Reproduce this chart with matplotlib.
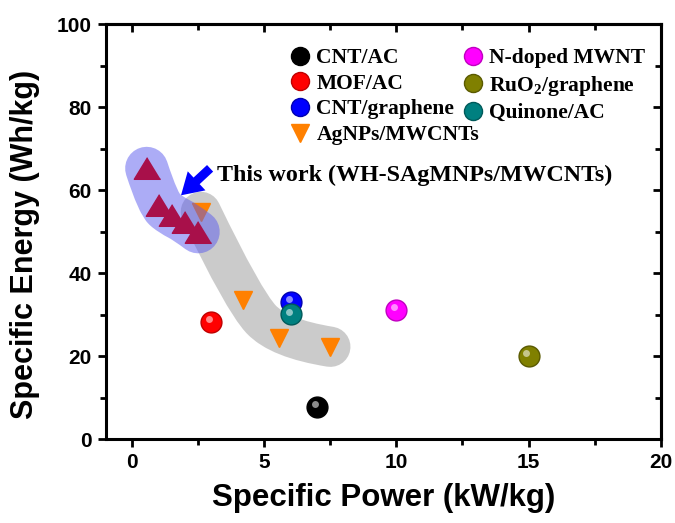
import matplotlib
matplotlib.use("Agg")
import matplotlib.pyplot as plt
import matplotlib.transforms as mtransforms
from matplotlib.path import Path
from matplotlib.patches import PathPatch

# ---------------- data ----------------
sphere_labels = ["CNT/AC", "MOF/AC", "CNT/graphene", "N-doped MWNT",
                 r"RuO$_\mathregular{2}$/graphene", "Quinone/AC"]
sphere_power = [7.0, 3.0, 6.0, 10.0, 15.0, 6.0]
sphere_energy = [7.8, 28.3, 33.2, 31.2, 20.1, 30.1]
sphere_colors = ["#000000", "#FF0000", "#0000FF", "#FF00FF", "#808000", "#008080"]
sphere_edges = ["#000000", "#C00000", "#0000B0", "#C000C0", "#5A5A00", "#005A5A"]

agnp_power = [2.6, 4.2, 5.55, 7.5]
agnp_energy = [54.8, 33.6, 24.3, 22.3]

work_power = [0.55, 1.0, 1.5, 2.0, 2.5]
work_energy = [65.3, 56.5, 54.0, 52.4, 50.0]


def smooth_band(xs, ys):
    # quadratic b-spline through the points, used for the shaded bands
    pts = list(zip(xs, ys))
    verts = [pts[0]]
    codes = [Path.MOVETO]
    for i in range(1, len(pts) - 1):
        verts.append(pts[i])
        if i < len(pts) - 2:
            verts.append(((pts[i][0] + pts[i + 1][0]) / 2, (pts[i][1] + pts[i + 1][1]) / 2))
        else:
            verts.append(pts[-1])
        codes += [Path.CURVE3, Path.CURVE3]
    return Path(verts, codes)


plt.rcParams["font.family"] = ["Liberation Sans", "DejaVu Sans"]
plt.rcParams["font.weight"] = "bold"

fig = plt.figure(figsize=(6.75, 5.23), dpi=100)
ax = fig.add_axes([0.1566, 0.1600, 0.8222, 0.7935])

# shaded bands behind the groups
ax.add_patch(PathPatch(smooth_band(agnp_power, agnp_energy), fill=False,
                       edgecolor="#999999", alpha=0.5, lw=29,
                       capstyle="round", joinstyle="round", zorder=1))
ax.plot(agnp_power, agnp_energy, "v", color="#FF8000", ms=13, mec="#FF8000",
        label="AgNPs/MWCNTs", zorder=2)
ax.add_patch(PathPatch(smooth_band(work_power, work_energy), fill=False,
                       edgecolor="#5A5AEE", alpha=0.5, lw=31,
                       capstyle="round", joinstyle="round", zorder=3))
tri = [(0, 0.82), (-1, -0.82), (1, -0.82)]
ax.plot(work_power, work_energy, ls="none", marker=tri, color="#A8104A",
        ms=19, zorder=4)

# spheres with a small highlight
hl = mtransforms.offset_copy(ax.transData, fig=fig, x=-1.5, y=1.8, units="points")
handles = {}
for lab, p, e, c, ec in zip(sphere_labels, sphere_power, sphere_energy,
                            sphere_colors, sphere_edges):
    h, = ax.plot([p], [e], "o", color=c, mec=ec, ms=15, label=lab, zorder=5)
    ax.plot([p], [e], "o", color="white", mec="none", ms=5, alpha=0.55,
            transform=hl, zorder=6)
    handles[lab] = h

ax.set_xlim(-1, 20)
ax.set_ylim(0, 100)
ax.set_xticks([0, 5, 10, 15, 20])
ax.set_xticks([2.5, 7.5, 12.5, 17.5], minor=True)
ax.set_yticks([0, 20, 40, 60, 80, 100])
ax.set_yticks([10, 30, 50, 70, 90], minor=True)
ax.tick_params(which="major", direction="out", length=6, width=2,
               labelsize=15, pad=4)
ax.tick_params(which="minor", direction="out", length=4, width=2)
for s in ax.spines.values():
    s.set_linewidth(2.2)

top = ax.secondary_xaxis("top")
top.set_xticks([0, 5, 10, 15, 20])
top.set_xticks([2.5, 7.5, 12.5, 17.5], minor=True)
top.tick_params(which="major", direction="in", length=6, width=2, labeltop=False)
top.tick_params(which="minor", direction="in", length=4, width=2)
top.spines["top"].set_linewidth(2.2)
right = ax.secondary_yaxis("right")
right.set_yticks([0, 20, 40, 60, 80, 100])
right.set_yticks([10, 30, 50, 70, 90], minor=True)
right.tick_params(which="major", direction="in", length=6, width=2, labelright=False)
right.tick_params(which="minor", direction="in", length=4, width=2)
right.spines["right"].set_linewidth(2.2)

ax.set_xlabel("Specific Power (kW/kg)", fontsize=22.5, fontweight="bold", labelpad=8)
ax.set_ylabel("Specific Energy (Wh/kg)", fontsize=22, fontweight="bold")
ax.yaxis.set_label_coords(-0.118, 0.47)

order = ["CNT/AC", "MOF/AC", "CNT/graphene"]
leg_handles = [handles[k] for k in order]
ag_handle = [l for l in ax.get_lines() if l.get_label() == "AgNPs/MWCNTs"][0]
leg_handles.append(ag_handle)
leg_handles += [handles[k] for k in sphere_labels[3:]]
leg = ax.legend(handles=leg_handles, ncol=2, loc="upper left",
                bbox_to_anchor=(0.335, 0.943), borderaxespad=0, borderpad=0,
                frameon=False, handlelength=0.8, handletextpad=0.35,
                columnspacing=-0.7, labelspacing=0.26,
                prop={"family": "Liberation Serif", "weight": "bold", "size": 15.5})
for h in leg.legend_handles:
    if h.get_marker() == "o":
        h.set_markersize(13)

ax.text(3.22, 63.6, "This work (WH-SAgMNPs/MWCNTs)", fontsize=17.3,
        fontweight="bold", family="Liberation Serif", ha="left", va="center",
        zorder=7)
ax.annotate("", xy=(1.85, 58.8), xytext=(2.95, 65.3),
            arrowprops=dict(arrowstyle="simple,head_width=1.1,head_length=0.9,tail_width=0.38",
                            color="#0000FF", lw=0, mutation_scale=17,
                            shrinkA=0, shrinkB=0), zorder=7)

fig.savefig("out.png", dpi=100)
